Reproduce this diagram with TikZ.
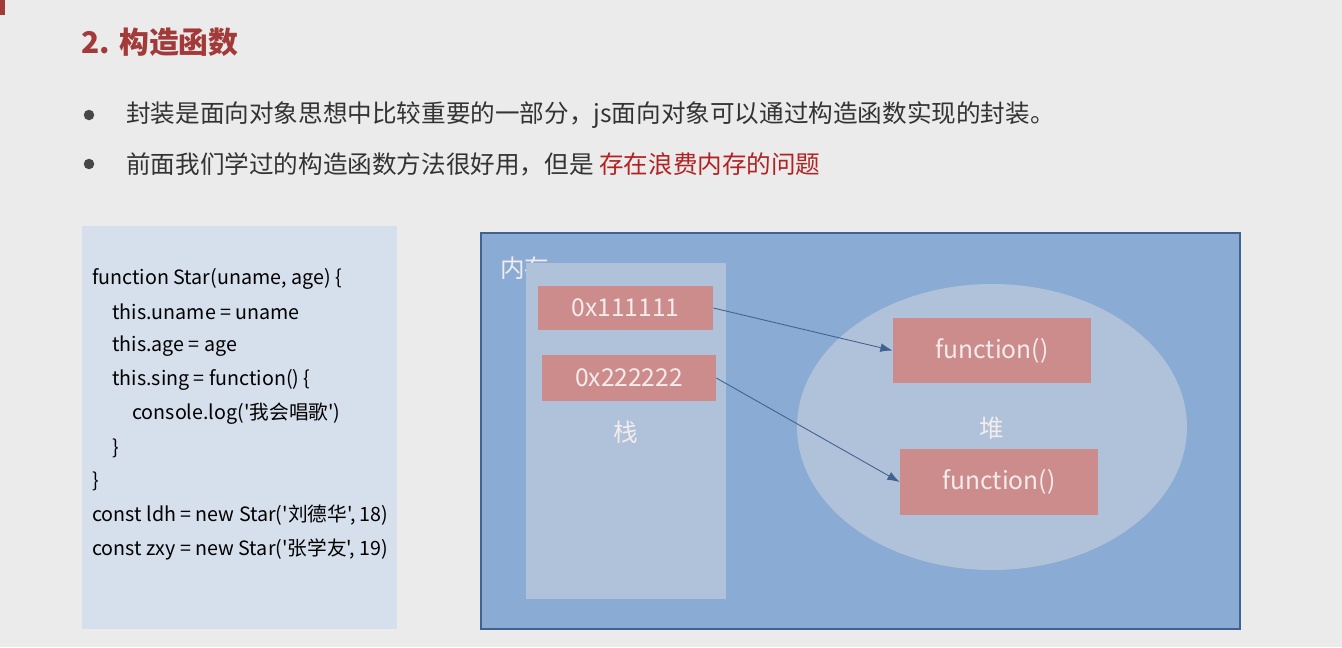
\documentclass[tikz,border=0pt]{standalone}
\usepackage{fontspec}
\setmainfont{Noto Sans CJK SC}
\newfontfamily\codefont{Noto Sans CJK SC}
\usetikzlibrary{arrows.meta}

\definecolor{pagegray}{HTML}{EBEBEB}
\definecolor{titlered}{HTML}{A33A3A}
\definecolor{textgray}{HTML}{333333}
\definecolor{warnred}{HTML}{B22222}
\definecolor{codebg}{HTML}{D6DFEC}
\definecolor{memblue}{HTML}{8AABD4}
\definecolor{memedge}{HTML}{3F6290}
\definecolor{zonebg}{HTML}{AFC2DA}
\definecolor{cellred}{HTML}{CD8C8C}
\definecolor{celltext}{HTML}{F3ECEC}

\tikzset{
  codeline/.style={anchor=west, inner sep=0pt, text=black, font=\codefont\fontsize{11.2pt}{13pt}\selectfont},
  bullettext/.style={anchor=west, inner sep=0pt, text=textgray, font=\fontsize{14pt}{16pt}\selectfont},
  bulletdot/.style={circle, fill=textgray!90, inner sep=0pt, minimum size=0.21cm},
  cell/.style={fill=cellred, text=celltext, inner sep=0pt, font=\fontsize{14pt}{16pt}\selectfont},
  zonelabel/.style={text=celltext, inner sep=0pt, font=\fontsize{14pt}{16pt}\selectfont},
  ptr/.style={draw=memedge, line width=0.5pt, -{Latex[length=7pt,width=5pt]}},
}

\begin{document}
\begin{tikzpicture}[x=0.02cm, y=-0.02cm]
  %%%%% PAGE %%%%%
  \fill[pagegray] (0, 0) rectangle (1342, 647);
  \useasboundingbox (0, 0) rectangle (1342, 647);
  \fill[titlered] (0, 0) rectangle (5, 15);

  %%%%% TITLE AND BULLETS %%%%%
  \node[anchor=west, inner sep=0pt, text=titlered, font=\fontsize{17pt}{20pt}\selectfont\bfseries] (title) at (81, 42) {2. 构造函数};

  \node[bulletdot] (dot1) at (89, 115) {};
  \node[bullettext] (line1) at (126, 115) {封装是面向对象思想中比较重要的一部分，js面向对象可以通过构造函数实现的封装。};
  \node[bulletdot] (dot2) at (89, 164) {};
  \node[bullettext] (line2) at (126, 164) {前面我们学过的构造函数方法很好用，但是 \textcolor{warnred}{存在浪费内存的问题}};

  %%%%% CODE %%%%%
  \fill[codebg] (82, 226) rectangle (397, 629);
  \node[codeline] (c1) at (92, 279) {function Star(uname, age) \{};
  \node[codeline] (c2) at (112, 312) {this.uname = uname};
  \node[codeline] (c3) at (112, 346) {this.age = age};
  \node[codeline] (c4) at (112, 380) {this.sing = function() \{};
  \node[codeline] (c5) at (132, 414) {console.log('我会唱歌')};
  \node[codeline] (c6) at (112, 448) {\}};
  \node[codeline] (c7) at (92, 481) {\}};
  \node[codeline] (c8) at (92, 515) {const ldh = new Star('刘德华', 18)};
  \node[codeline] (c9) at (92, 549) {const zxy = new Star('张学友', 19)};

  %%%%% MEMORY %%%%%
  \draw[fill=memblue, draw=memedge, line width=1.2pt] (481, 233) rectangle (1240, 629);
  \node[zonelabel, anchor=west] (memlabel) at (500, 268) {内存};

  % stack
  \fill[zonebg] (526, 263) rectangle (726, 599);
  \node[cell, minimum width=3.5cm, minimum height=0.88cm] (p1) at (625.5, 308) {0x111111};
  \node[cell, minimum width=3.48cm, minimum height=0.92cm] (p2) at (629, 378) {0x222222};
  \node[zonelabel] (stack) at (626, 432) {栈};

  % heap
  \fill[zonebg] (992, 427) ellipse [x radius=195, y radius=143];
  \node[cell, minimum width=3.96cm, minimum height=1.3cm] (f1) at (992, 350.5) {function()};
  \node[cell, minimum width=3.96cm, minimum height=1.32cm] (f2) at (999, 482) {function()};
  \node[zonelabel] (heap) at (992, 428) {堆};

  % references
  \draw[ptr] (p1.east) -- (f1.west);
  \draw[ptr] (p2.east) -- (f2.west);
\end{tikzpicture}
\end{document}
